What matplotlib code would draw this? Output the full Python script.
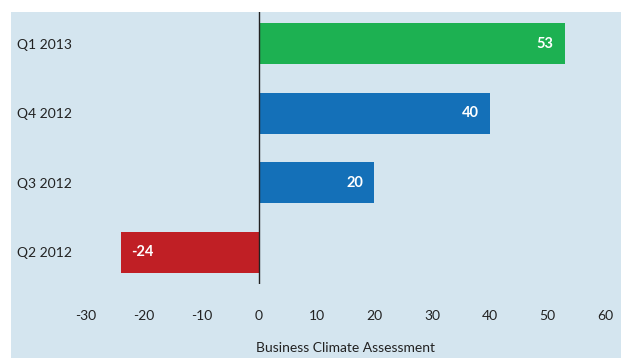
import matplotlib.pyplot as plt
from matplotlib.patches import Rectangle

plt.rcParams['font.family'] = ['Lato', 'DejaVu Sans']

quarters = ['Q2 2012', 'Q3 2012', 'Q4 2012', 'Q1 2013']
scores = [-24, 20, 40, 53]
bar_colors = ['#c01f25', '#1470b8', '#1470b8', '#1db152']
xticks = [-30, -20, -10, 0, 10, 20, 30, 40, 50, 60]

bg = '#d4e5ef'
fig = plt.figure(figsize=(6.21, 3.58), dpi=100)
fig.patch.set_facecolor('white')
# light blue panel behind everything, leaving a thin white strip top/left
fig.add_artist(Rectangle((11 / 621, 0), 1, 1 - 12 / 358, transform=fig.transFigure,
                         facecolor=bg, edgecolor='none', zorder=0))

ax = fig.add_axes([86 / 621, 1 - 284 / 358, (605 - 86) / 621, (284 - 12) / 358])
ax.set_facecolor(bg)
pos = list(range(len(quarters)))
bars = ax.barh(pos, scores, height=0.59, color=bar_colors, zorder=2)
ax.axvline(0, color='#222222', lw=1, zorder=3)

for b, v in zip(bars, scores):
    y = b.get_y() + b.get_height() / 2
    if v >= 0:
        ax.annotate(str(v), (v, y), xytext=(-11, 0), textcoords='offset pixels',
                    ha='right', va='center', color='white', fontweight='bold', fontsize=10.5)
    else:
        ax.annotate(str(v), (v, y), xytext=(11, 0), textcoords='offset pixels',
                    ha='left', va='center', color='white', fontweight='bold', fontsize=10.5)

ax.set_xlim(-30, 60)
ax.set_ylim(-0.46, 3.46)
ax.set_xticks(xticks)
ax.set_xticklabels([str(t) for t in xticks])
ax.set_yticks(pos)
ax.set_yticklabels(quarters)
for lbl in ax.get_yticklabels():
    lbl.set_ha('left')
ax.tick_params(axis='y', length=0, pad=50, labelsize=10, labelcolor='#222222')
ax.tick_params(axis='x', length=0, pad=19, labelsize=10, labelcolor='#222222')
for s in ax.spines.values():
    s.set_visible(False)
ax.set_xlabel('Business Climate Assessment', fontsize=10, color='#222222', labelpad=14)

fig.savefig('out.png', dpi=100, facecolor=fig.get_facecolor())
